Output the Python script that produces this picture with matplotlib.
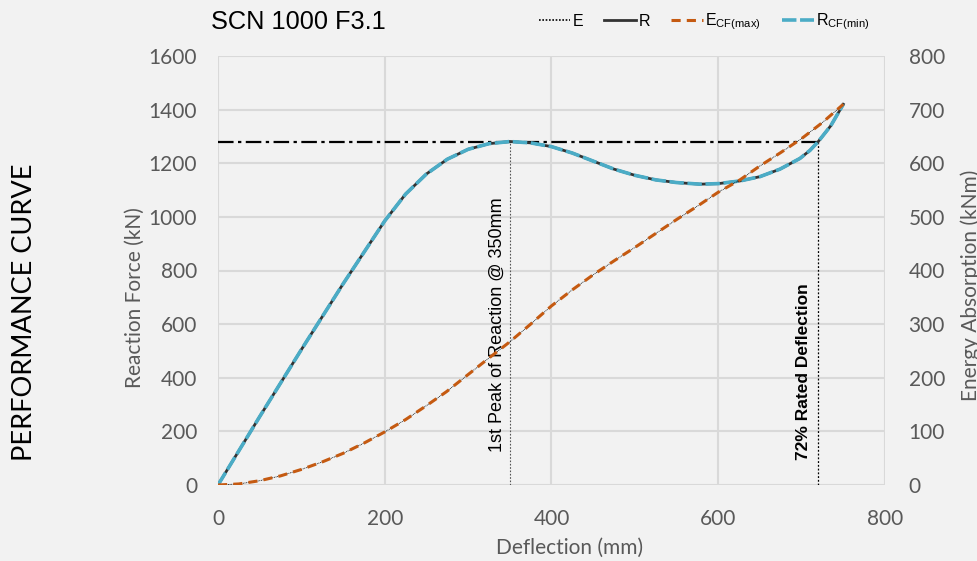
import matplotlib
matplotlib.use('Agg')
import matplotlib.pyplot as plt

# deflection (mm) and reaction force (kN)
defl_r = [0, 50, 100, 150, 200, 225, 250, 275, 300, 325, 350, 375, 400, 425,
          450, 475, 500, 525, 550, 578, 600, 626, 650, 674, 698, 710, 720,
          735, 750]
reaction = [0, 255, 505, 750, 985, 1085, 1160, 1215, 1252, 1273, 1281, 1276,
            1262, 1238, 1208, 1178, 1155, 1138, 1128, 1122, 1124, 1134, 1150,
            1178, 1218, 1248, 1281, 1340, 1420]

# deflection (mm) and energy absorption (kNm)
defl_e = [0, 25, 50, 75, 100, 125, 150, 175, 200, 225, 250, 274, 300, 326,
          350, 375, 400, 425, 450, 475, 500, 525, 550, 575, 600, 626, 650,
          675, 700, 725, 750]
energy = [0, 2, 8, 17, 29, 43, 59, 78, 99, 122, 148, 174, 206, 238, 267,
          300, 334, 364, 392, 418, 443, 469, 495, 520, 546, 569, 595, 620,
          646, 676, 710]

peak_defl = 350
peak_force = 1281
rated_defl = 720

grey = '#595959'
bg = '#f2f2f2'
orange = '#c55a11'
cyan = '#4bacc6'

plt.rcParams['mathtext.fontset'] = 'custom'
plt.rcParams['mathtext.rm'] = 'Liberation Sans'

fig = plt.figure(figsize=(9.78, 5.61), dpi=100, facecolor=bg)
ax = fig.add_axes([218 / 978, 76 / 561, 667 / 978, 429 / 561])
ax.set_facecolor(bg)
ax2 = ax.twinx()
ax2.patch.set_visible(False)

ax.set_xlim(0, 800)
ax.set_ylim(0, 1600)
ax2.set_ylim(0, 800)
ax.set_xticks(range(0, 801, 200))
ax.set_yticks(range(0, 1601, 200))
ax2.set_yticks(range(0, 801, 100))

for a in (ax, ax2):
    for s in a.spines.values():
        s.set_visible(False)
ax.grid(True, color='#d9d9d9', lw=1.5, zorder=0)
ax.set_axisbelow(True)

tick_font = dict(family='Lato', size=15, color=grey)
ax.tick_params(axis='both', length=0, labelcolor=grey, labelsize=15)
ax.tick_params(axis='y', pad=15)
ax.tick_params(axis='x', pad=17)
ax2.tick_params(axis='y', length=0, labelcolor=grey, labelsize=15, pad=17)
for lbl in ax.get_xticklabels() + ax.get_yticklabels() + ax2.get_yticklabels():
    lbl.set_fontfamily('Lato')

# reference lines
ax.hlines(peak_force, 0, rated_defl, color='black', lw=1.6,
          linestyles=[(0, (7, 2, 1.5, 2))], zorder=3)
ax.vlines(peak_defl, 0, peak_force, color='#555555', lw=0.8,
          linestyles=[(0, (1.5, 1.5))], zorder=3)
ax.vlines(rated_defl, 0, peak_force, color='black', lw=0.9,
          linestyles=[(0, (1.5, 1.5))], zorder=3)

# curves
r_line, = ax.plot(defl_r, reaction, color='#333333', lw=2, zorder=4)
rcf_line, = ax.plot(defl_r, reaction, color=cyan, lw=2.6,
                    linestyle=(0, (4, 1)), zorder=5)
e_line, = ax2.plot(defl_e, energy, color='black', lw=0.6,
                   linestyle=(0, (1, 1)), zorder=4)
ecf_line, = ax2.plot(defl_e, energy, color=orange, lw=2.2,
                     linestyle=(0, (3, 2)), zorder=5)

ax.text(335, 597, '1st Peak of Reaction @ 350mm', rotation=90,
        ha='center', va='center', fontsize=13, family='Liberation Sans',
        color='black', zorder=6)
ax.text(702, 422, '72% Rated Deflection', rotation=90, ha='center',
        va='center', fontsize=12.5, fontweight='bold',
        family='Liberation Sans', color='black', zorder=6)

# axis titles
fig.text(135 / 978, 1 - 298 / 561, 'Reaction Force (kN)', rotation=90,
         ha='center', va='center', **tick_font)
fig.text(971 / 978, 1 - 285 / 561, 'Energy Absorption (kNm)', rotation=90,
         ha='center', va='center', **tick_font)
fig.text(570 / 978, 1 - 548 / 561, 'Deflection (mm)', ha='center',
         va='center', **tick_font)
fig.text(25 / 978, 1 - 312 / 561, 'PERFORMANCE CURVE', rotation=90,
         ha='center', va='center', family='Lato', size=19.5, color='black')
fig.text(211 / 978, 1 - 22 / 561, 'SCN 1000 F3.1', ha='left', va='center',
         family='Liberation Sans', size=18.3, color='black')

leg = fig.legend([e_line, r_line, ecf_line, rcf_line],
                 ['E', 'R', r'E$_{\mathregular{CF(max)}}$',
                  r'R$_{\mathregular{CF(min)}}$'],
                 loc='center', bbox_to_anchor=(704 / 978, 1 - 22 / 561),
                 ncol=4, frameon=False, handlelength=2.0, handletextpad=0.15,
                 columnspacing=1.3, prop={'family': 'Liberation Sans', 'size': 11.5})
leg.legend_handles[0].set_linewidth(1.2)

fig.savefig('out.png', dpi=100, facecolor=bg)
